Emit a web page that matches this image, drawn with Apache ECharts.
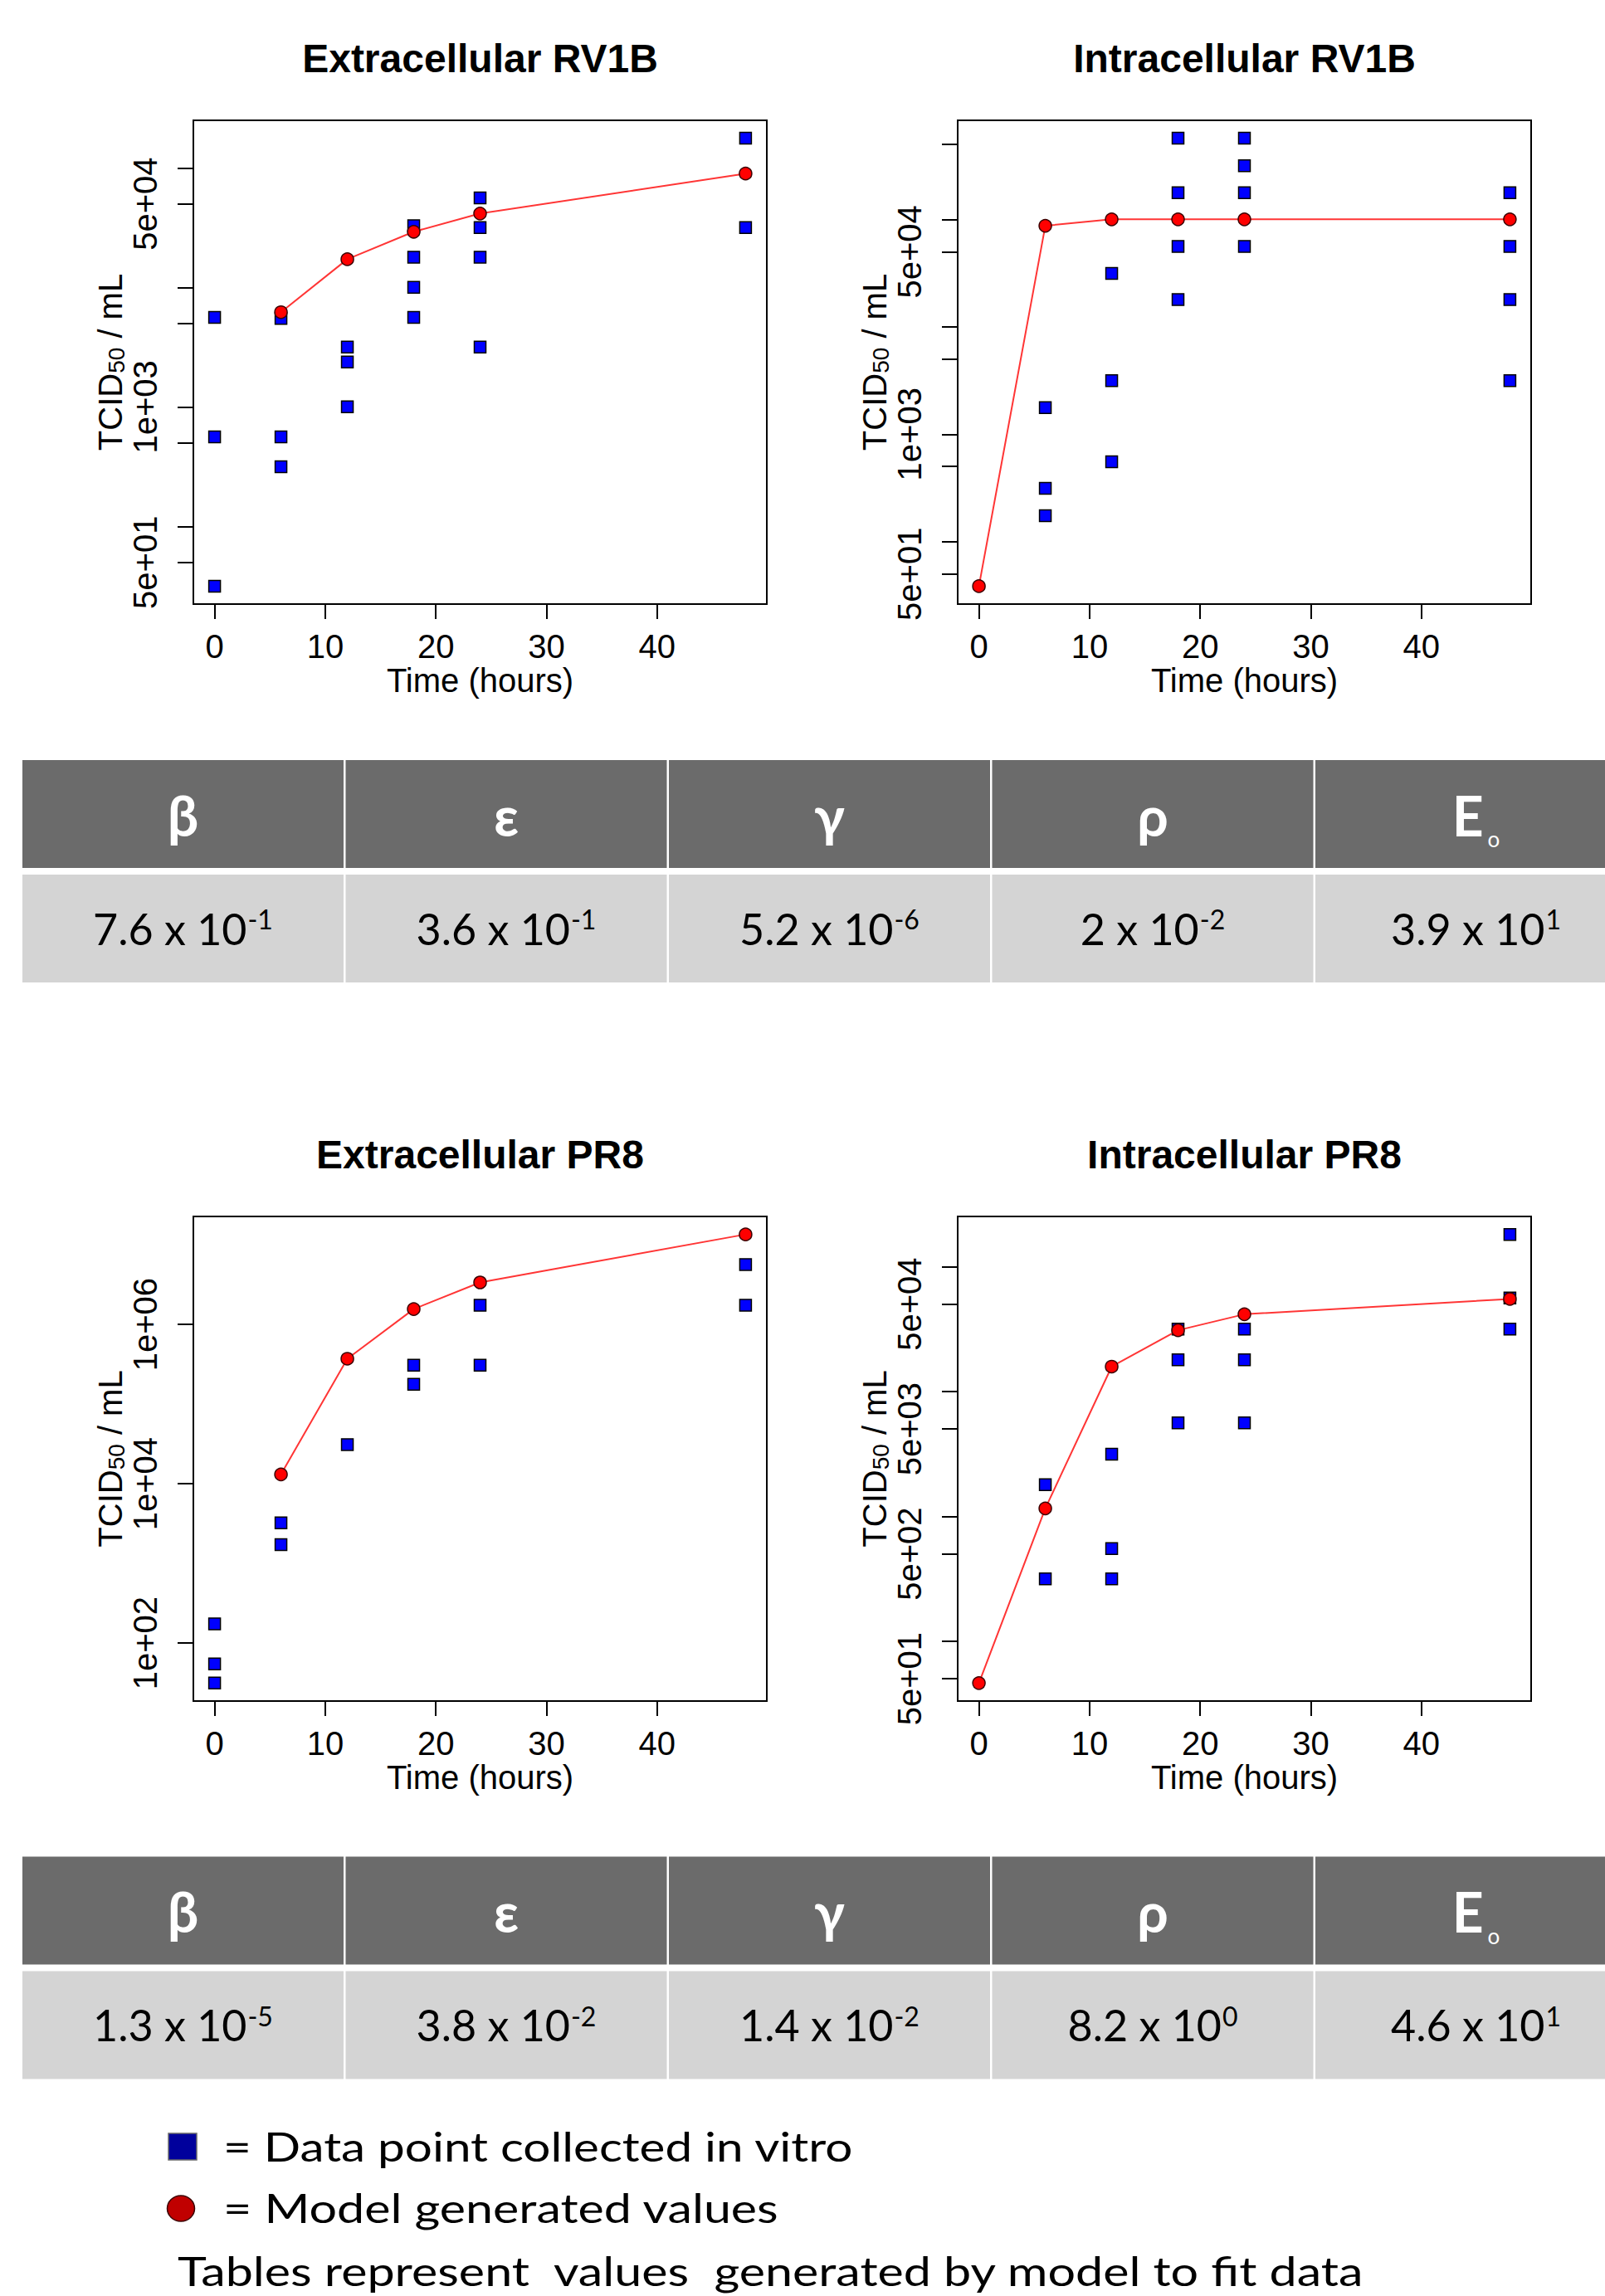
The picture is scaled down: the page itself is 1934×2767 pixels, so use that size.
<!DOCTYPE html>
<html>
<head>
<meta charset="utf-8">
<script src="https://cdn.jsdelivr.net/npm/echarts@6/dist/echarts.min.js"></script>
<style>
html,body{margin:0;padding:0;background:#ffffff;}
#main{width:1934px;height:2767px;}
</style>
</head>
<body>
<div id="main"></div>
<script>
// ---------------- DATA ----------------
const xTickValues = [0, 10, 20, 30, 40];
const hourSpan = [0, 48];

// Extracellular RV1B : [hour, TCID50/mL]
const extRV1B_obs = [
  [0, 5600], [0, 560], [0, 31.6],
  [6, 5500], [6, 560], [6, 316],
  [12, 3160], [12, 2370], [12, 1000],
  [18, 32800], [18, 17900], [18, 10000], [18, 5600],
  [24, 56000], [24, 31600], [24, 17900], [24, 3160],
  [48, 177000], [48, 31600]
];
const extRV1B_model = [[6, 6200], [12, 17200], [18, 29200], [24, 41500], [48, 89600]];
const extRV1B_yTicks = [50, 100, 500, 1000, 5000, 10000, 50000, 100000];
const extRV1B_yLabels = [50, 1000, 50000];

// Intracellular RV1B
const intRV1B_obs = [
  [6, 1770], [6, 313], [6, 174],
  [12, 31400], [12, 3150], [12, 555],
  [18, 569000], [18, 177000], [18, 56000], [18, 17900],
  [24, 569000], [24, 315000], [24, 177000], [24, 56000],
  [48, 177000], [48, 56000], [48, 17900], [48, 3150]
];
const intRV1B_model = [[0, 38.5], [6, 87100], [12, 100000], [18, 100000], [24, 100000], [48, 100000]];
const intRV1B_yTicks = [50, 100, 500, 1000, 5000, 10000, 50000, 100000, 500000];
const intRV1B_yLabels = [50, 1000, 50000];

// Extracellular PR8
const extPR8_obs = [
  [0, 174], [0, 54.6], [0, 31.4],
  [6, 3230], [6, 1720],
  [12, 31000],
  [18, 307000], [18, 177000],
  [24, 1740000], [24, 307000],
  [48, 5650000], [48, 1740000]
];
const extPR8_model = [[6, 13100], [12, 371000], [18, 1560000], [24, 3370000], [48, 13500000]];
const extPR8_yTicks = [100, 10000, 1000000];
const extPR8_yLabels = [100, 10000, 1000000];

// Intracellular PR8
const intPR8_obs = [
  [6, 1790], [6, 315],
  [12, 3140], [12, 552], [12, 315],
  [18, 31600], [18, 17900], [18, 5590],
  [24, 31600], [24, 17900], [24, 5590],
  [48, 181000], [48, 56100], [48, 31600]
];
const intPR8_model = [[0, 46.1], [6, 1156], [12, 15800], [18, 30900], [24, 41500], [48, 55000]];
const intPR8_yTicks = [50, 100, 500, 1000, 5000, 10000, 50000, 100000];
const intPR8_yLabels = [50, 500, 5000, 50000];

const panelTitles = ['Extracellular RV1B', 'Intracellular RV1B', 'Extracellular PR8', 'Intracellular PR8'];

// Parameter tables
const paramSymbols = ['β', 'ε', 'γ', 'ρ', 'E'];
const paramSubscripts = ['', '', '', '', 'o'];
const rv1bMantissa = ['7.6', '3.6', '5.2', '2', '3.9'];
const rv1bExponent = ['-1', '-1', '-6', '-2', '1'];
const pr8Mantissa = ['1.3', '3.8', '1.4', '8.2', '4.6'];
const pr8Exponent = ['-5', '-2', '-2', '0', '1'];

const legendTexts = ['= Data point collected in vitro', '= Model generated values'];
const noteText = 'Tables represent  values  generated by model to fit data';

// ---------------- LAYOUT / STYLE ----------------
const FONT_R = "'Liberation Sans', Arial, Helvetica, sans-serif";
const FONT_C = "Lato, 'Open Sans', 'Noto Sans', sans-serif";

const GRIDS = [
  {left: 233, top: 145, width: 691, height: 583},
  {left: 1154, top: 145, width: 691, height: 583},
  {left: 233, top: 1466, width: 691, height: 584},
  {left: 1154, top: 1466, width: 691, height: 584}
];
const panels = [
  {obs: extRV1B_obs, model: extRV1B_model, yTicks: extRV1B_yTicks, yLabels: extRV1B_yLabels},
  {obs: intRV1B_obs, model: intRV1B_model, yTicks: intRV1B_yTicks, yLabels: intRV1B_yLabels},
  {obs: extPR8_obs, model: extPR8_model, yTicks: extPR8_yTicks, yLabels: extPR8_yLabels},
  {obs: intPR8_obs, model: intPR8_model, yTicks: intPR8_yTicks, yLabels: intPR8_yLabels}
];

// R-style axis extents (4% padding)
const xPad = 0.04 * (hourSpan[1] - hourSpan[0]);
const X_MIN = hourSpan[0] - xPad, X_MAX = hourSpan[1] + xPad;
function logRange(obs, model) {
  const v = obs.concat(model).map(p => Math.log10(p[1]));
  const lo = Math.min.apply(null, v), hi = Math.max.apply(null, v);
  const pad = 0.04 * (hi - lo);
  return [Math.pow(10, lo - pad), Math.pow(10, hi + pad)];
}
function fmtSci(v) {
  const e = Math.floor(Math.log10(v) + 1e-9);
  const m = Math.round(v / Math.pow(10, e));
  const a = Math.abs(e);
  return m + 'e' + (e < 0 ? '-' : '+') + (a < 10 ? '0' + a : a);
}

const title = panelTitles.map((t, i) => ({
  text: t,
  left: GRIDS[i].left + GRIDS[i].width / 2,
  top: GRIDS[i].top - 99,
  textAlign: 'center',
  padding: 0,
  textStyle: {fontFamily: FONT_R, fontWeight: 'bold', fontSize: 48, lineHeight: 48, color: '#000'}
}));

const grid = GRIDS.map(g => ({
  left: g.left, top: g.top, width: g.width, height: g.height,
  show: true, borderColor: '#000', borderWidth: 2, backgroundColor: 'transparent',
  containLabel: false, outerBoundsMode: 'none'
}));

const xAxis = panels.map((p, i) => ({
  type: 'value', gridIndex: i, min: X_MIN, max: X_MAX,
  name: 'Time (hours)', nameLocation: 'middle', nameGap: 63,
  nameTextStyle: {fontFamily: FONT_R, fontSize: 40, lineHeight: 40, color: '#000'},
  axisLine: {show: false, onZero: false}, splitLine: {show: false},
  axisTick: {show: true, length: 18, lineStyle: {color: '#000', width: 2}, customValues: xTickValues},
  axisLabel: {show: true, margin: 31, fontFamily: FONT_R, fontSize: 40, lineHeight: 40, color: '#000', customValues: xTickValues}
}));

const yAxis = panels.map((p, i) => {
  const r = logRange(p.obs, p.model);
  return {
    type: 'log', logBase: 10, gridIndex: i, min: r[0], max: r[1],
    name: '{a|TCID}{s|50}{a| / mL}', nameLocation: 'middle', nameRotate: 90, nameGap: 74,
    nameTextStyle: {
      fontFamily: FONT_R, fontSize: 40, color: '#000',
      rich: {
        a: {fontFamily: FONT_R, fontSize: 40, lineHeight: 48, color: '#000'},
        s: {fontFamily: FONT_R, fontSize: 28, lineHeight: 48, color: '#000', padding: [14, 0, 0, 0]}
      }
    },
    axisLine: {show: false, onZero: false}, splitLine: {show: false}, minorTick: {show: false},
    axisTick: {show: true, length: 19, lineStyle: {color: '#000', width: 2}, customValues: p.yTicks},
    axisLabel: {show: true, rotate: 90, margin: 38, fontFamily: FONT_R, fontSize: 40, lineHeight: 40, color: '#000',
      customValues: p.yLabels, formatter: v => fmtSci(v)}
  };
});

const series = [];
panels.forEach((p, i) => {
  series.push({
    type: 'scatter', xAxisIndex: i, yAxisIndex: i, data: p.obs,
    symbol: 'rect', symbolSize: 14, z: 3,
    itemStyle: {color: '#0000ff', borderColor: '#000', borderWidth: 1.5, opacity: 1}
  });
  series.push({
    type: 'line', xAxisIndex: i, yAxisIndex: i, data: p.model,
    symbol: 'circle', symbolSize: 15, showSymbol: true, z: 4,
    lineStyle: {color: '#ff3535', width: 2},
    itemStyle: {color: '#ff0000', borderColor: '#3a0000', borderWidth: 1.5}
  });
});

// ---------------- TABLES ----------------
const CELL_X0 = 27, CELL_STEP = 389.5, CELL_W = 387, ROW_H = 130;
const TABLES = [
  {top: 916, mant: rv1bMantissa, exp: rv1bExponent},
  {top: 2237.5, mant: pr8Mantissa, exp: pr8Exponent}
];
const elements = [];
TABLES.forEach(tb => {
  const hdrTop = tb.top, dataTop = tb.top + 138;
  paramSymbols.forEach((sym, c) => {
    const x = CELL_X0 + c * CELL_STEP;
    const cx = x + CELL_W / 2;
    elements.push({type: 'rect', shape: {x: x, y: hdrTop, width: CELL_W, height: ROW_H},
      style: {fill: '#6b6b6b'}, silent: true});
    elements.push({type: 'rect', shape: {x: x, y: dataTop, width: CELL_W, height: ROW_H},
      style: {fill: '#d4d4d4'}, silent: true});
    const hdrText = '{h|' + sym + '}' + (paramSubscripts[c] ? '{sub|' + paramSubscripts[c] + '}' : '');
    elements.push({type: 'text', x: cx, y: hdrTop + 66, silent: true,
      style: {text: hdrText, align: 'center', verticalAlign: 'middle',
        rich: {
          h: {fontFamily: FONT_C, fontSize: 66, fontWeight: 'bold', fill: '#ffffff', lineHeight: 74},
          sub: {fontFamily: FONT_C, fontSize: 26, fill: '#ffffff', lineHeight: 74, padding: [58, 0, 0, 5]}
        }}});
    elements.push({type: 'text', x: cx, y: dataTop + 64.5, silent: true,
      style: {text: '{m|' + tb.mant[c] + ' x 10}{sup|' + tb.exp[c] + '}', align: 'center', verticalAlign: 'middle',
        rich: {
          m: {fontFamily: FONT_C, fontSize: 52, fill: '#000000', lineHeight: 60},
          sup: {fontFamily: FONT_C, fontSize: 32, fill: '#000000', lineHeight: 60, padding: [0, 0, 22, 1]}
        }}});
  });
});

// ---------------- LEGEND ----------------
function measure(text, font) {
  const ctx = document.createElement('canvas').getContext('2d');
  ctx.font = font;
  return ctx.measureText(text).width;
}
elements.push({type: 'rect', shape: {x: 203, y: 2571, width: 34, height: 32},
  style: {fill: '#00009c', stroke: '#6a6a6a', lineWidth: 1.5}, silent: true});
elements.push({type: 'ellipse', shape: {cx: 218, cy: 2661.5, rx: 16.5, ry: 15.5},
  style: {fill: '#c00000', stroke: '#3a0000', lineWidth: 1.5}, silent: true});
const legendLayout = [
  {text: legendTexts[0], x: 269, y: 2586, size: 48, w: 760},
  {text: legendTexts[1], x: 269, y: 2660, size: 48, w: 670},
  {text: noteText, x: 214, y: 2736, size: 48, w: 1432}
];
legendLayout.forEach(L => {
  const mw = measure(L.text, L.size + 'px ' + FONT_C);
  const sx = mw > 0 ? L.w / mw : 1;
  elements.push({type: 'text', x: L.x, y: L.y, scaleX: sx, scaleY: 1, silent: true,
    style: {text: L.text, align: 'left', verticalAlign: 'middle', fontFamily: FONT_C, fontSize: L.size, fill: '#000000'}});
});

const option = {
  animation: false,
  backgroundColor: '#ffffff',
  textStyle: {fontFamily: FONT_R},
  title: title,
  grid: grid,
  xAxis: xAxis,
  yAxis: yAxis,
  series: series,
  graphic: {elements: elements}
};

const chart = echarts.init(document.getElementById('main'), null, {renderer: 'svg', width: 1934, height: 2767});
chart.setOption(option);
</script>
</body>
</html>
